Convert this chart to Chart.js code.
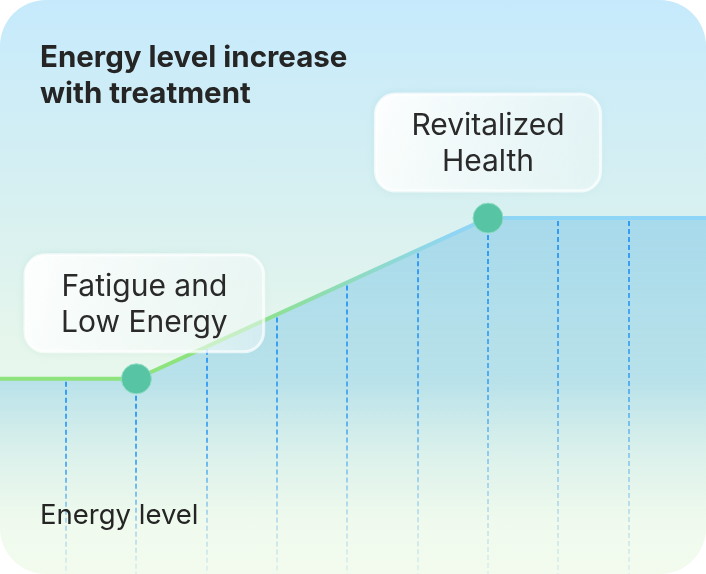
<!DOCTYPE html>
<html>
<head>
<meta charset="utf-8">
<script src="https://cdn.jsdelivr.net/npm/chart.js@4.4.1/dist/chart.umd.min.js"></script>
<style>
  html, body { margin: 0; padding: 0; background: #ffffff; }
  #card {
    width: 706px; height: 574px; border-radius: 46px; overflow: hidden;
    background: linear-gradient(180deg, #c6eafc 0%, #d7f0f1 35%, #e6f6ec 60%, #f2fbee 100%);
    position: relative;
  }
  canvas { display: block; }
</style>
</head>
<body>
<div id="card"><canvas id="myChart" width="706" height="574"></canvas></div>
<script>
// chart values
const stageX = [0, 2, 7, 10.1];
const energy = [34, 34, 62, 62];
const stageLabels = ['', 'Fatigue and\nLow Energy', 'Revitalized\nHealth', ''];
const markerX = [1, 2, 3, 4, 5, 6, 7, 8, 9];
const titleLines = ['Energy level increase', 'with treatment'];
const axisLabel = 'Energy level';

const FONT = 'Inter, "Noto Sans", sans-serif';
const POINT_R = 15;

// linear interpolation on the line to know where a drop line begins
function energyAt(x) {
  for (let i = 0; i < stageX.length - 1; i++) {
    if (x >= stageX[i] && x <= stageX[i + 1]) {
      const t = (x - stageX[i]) / (stageX[i + 1] - stageX[i]);
      return energy[i] + t * (energy[i + 1] - energy[i]);
    }
  }
  return energy[energy.length - 1];
}

function roundRect(ctx, x, y, w, h, r) {
  ctx.beginPath();
  ctx.moveTo(x + r, y);
  ctx.arcTo(x + w, y, x + w, y + h, r);
  ctx.arcTo(x + w, y + h, x, y + h, r);
  ctx.arcTo(x, y + h, x, y, r);
  ctx.arcTo(x, y, x + w, y, r);
  ctx.closePath();
}

const dropLines = {
  id: 'dropLines',
  afterDatasetsDraw(chart) {
    const ctx = chart.ctx;
    const xs = chart.scales.x, ys = chart.scales.y;
    const bottom = chart.chartArea.bottom;
    ctx.save();
    ctx.lineWidth = 2;
    ctx.setLineDash([5, 3]);
    markerX.forEach(v => {
      const px = Math.round(xs.getPixelForValue(v));
      const idx = stageX.indexOf(v);
      const hasPoint = idx >= 0 && stageLabels[idx];
      const top = ys.getPixelForValue(energyAt(v)) + (hasPoint ? POINT_R + 2 : 3);
      const g = ctx.createLinearGradient(0, top, 0, bottom);
      g.addColorStop(0, 'rgba(50,155,245,1)');
      g.addColorStop(0.45, 'rgba(60,160,240,0.8)');
      g.addColorStop(1, 'rgba(140,195,225,0.15)');
      ctx.strokeStyle = g;
      ctx.beginPath();
      ctx.moveTo(px, top);
      ctx.lineTo(px, bottom);
      ctx.stroke();
    });
    ctx.restore();
  }
};

const textLayer = {
  id: 'textLayer',
  afterDatasetsDraw(chart) {
    const ctx = chart.ctx;
    const meta = chart.getDatasetMeta(0);
    ctx.save();

    // title
    ctx.fillStyle = '#252525';
    ctx.font = 'bold 29.5px ' + FONT;
    ctx.textAlign = 'left';
    ctx.textBaseline = 'alphabetic';
    titleLines.forEach((t, i) => ctx.fillText(t, 40, 67 + i * 36));

    // axis caption
    ctx.font = '27.5px ' + FONT;
    ctx.fillText(axisLabel, 40, 524);

    // callouts above the points, kept inside the card
    ctx.font = '30px ' + FONT;
    stageLabels.forEach((lbl, i) => {
      if (!lbl) return;
      const pt = meta.data[i];
      const lines = lbl.split('\n');
      const w = Math.max(...lines.map(l => ctx.measureText(l).width)) + 72;
      const h = 97;
      const cx = Math.max(pt.x, 25 + w / 2);
      const bx = cx - w / 2;
      const by = pt.y - 27 - h;

      ctx.save();
      ctx.shadowColor = 'rgba(120,190,170,0.25)';
      ctx.shadowBlur = 8;
      const g = ctx.createLinearGradient(bx, by, bx + w, by + h);
      g.addColorStop(0, 'rgba(255,255,255,0.97)');
      g.addColorStop(1, 'rgba(255,255,255,0.45)');
      roundRect(ctx, bx, by, w, h, 20);
      ctx.fillStyle = g;
      ctx.fill();
      ctx.restore();
      roundRect(ctx, bx, by, w, h, 20);
      ctx.lineWidth = 3;
      ctx.strokeStyle = 'rgba(255,255,255,0.7)';
      ctx.stroke();

      ctx.fillStyle = '#2a2a2a';
      ctx.textAlign = 'center';
      lines.forEach((l, k) => ctx.fillText(l, cx, by + 41 + k * 36));
    });
    ctx.restore();
  }
};

const ctx = document.getElementById('myChart').getContext('2d');

const lineGrad = ctx.createLinearGradient(0, 0, 706, 0);
lineGrad.addColorStop(0, '#8de37c');
lineGrad.addColorStop(0.32, '#8de37c');
lineGrad.addColorStop(0.64, '#8fd5f3');
lineGrad.addColorStop(1, '#8fd5f8');

const fillGrad = ctx.createLinearGradient(0, 210, 0, 520);
fillGrad.addColorStop(0, 'rgba(140,205,232,0.65)');
fillGrad.addColorStop(0.55, 'rgba(145,208,232,0.55)');
fillGrad.addColorStop(0.8, 'rgba(160,215,230,0.2)');
fillGrad.addColorStop(1, 'rgba(170,220,230,0)');

new Chart(ctx, {
  type: 'line',
  data: {
    datasets: [{
      data: stageX.map((x, i) => ({ x: x, y: energy[i] })),
      borderColor: lineGrad,
      borderWidth: 4,
      backgroundColor: fillGrad,
      fill: 'start',
      tension: 0,
      pointRadius: stageLabels.map(l => l ? POINT_R : 0),
      pointBackgroundColor: '#57c4a4',
      pointBorderColor: '#8fdcc6',
      pointBorderWidth: 1
    }]
  },
  options: {
    responsive: false,
    animation: false,
    layout: { padding: 0 },
    plugins: {
      legend: { display: false },
      tooltip: { enabled: false }
    },
    scales: {
      x: { type: 'linear', min: 0.06, max: 10.1, display: false },
      y: { min: 0, max: 100, display: false }
    }
  },
  plugins: [dropLines, textLayer]
});
</script>
</body>
</html>
